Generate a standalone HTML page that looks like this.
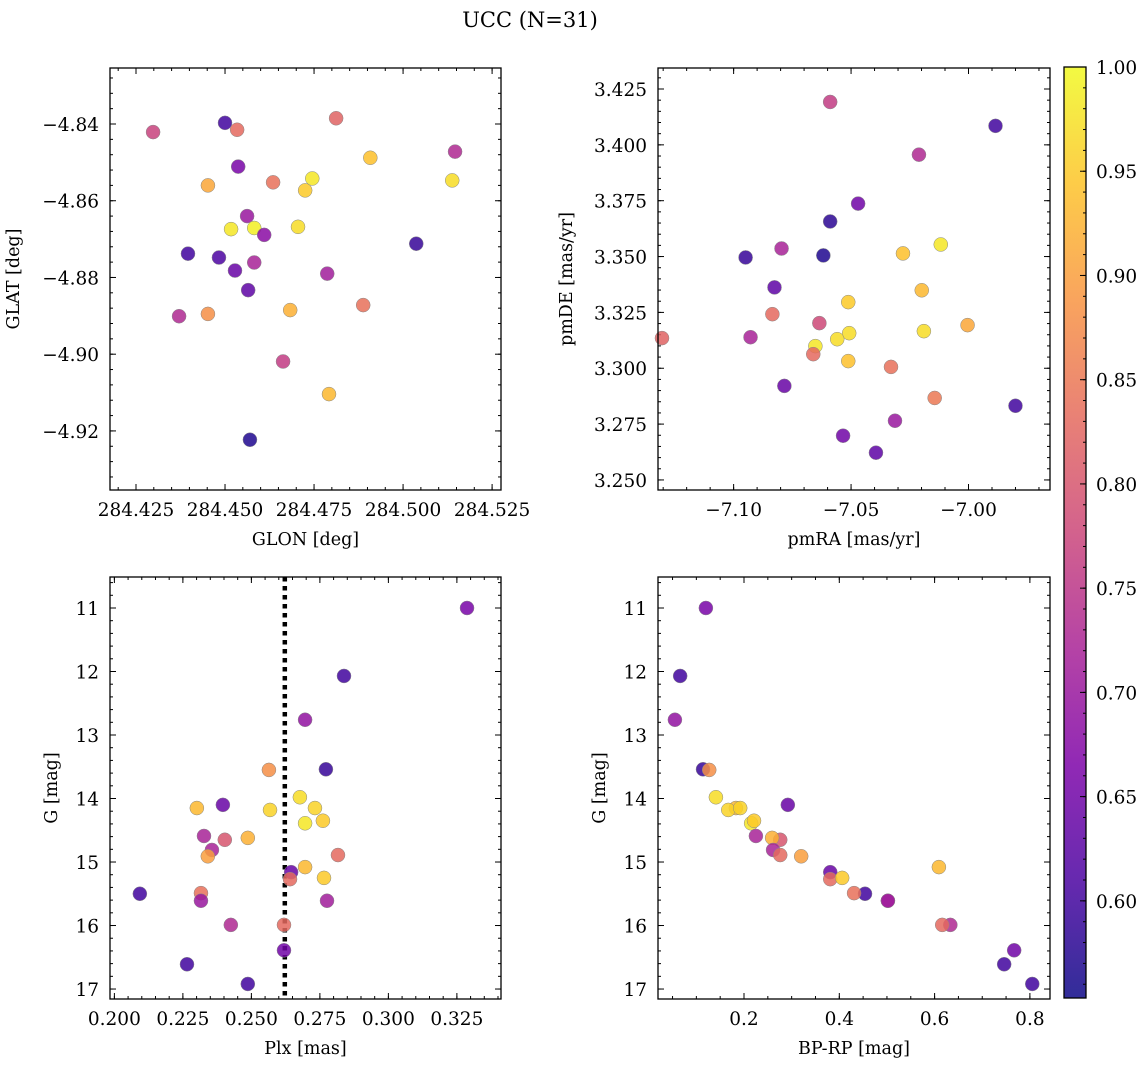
<!DOCTYPE html>
<html><head><meta charset="utf-8"><style>
body{margin:0;background:#fff;}
svg text{font-family:"DejaVu Serif","Liberation Serif",serif;fill:#000;}
</style></head><body>
<svg id="fig" width="1148" height="1067" xmlns="http://www.w3.org/2000/svg">
<defs><linearGradient id="plasma" x1="0" y1="1" x2="0" y2="0"></linearGradient></defs>
<text x="530" y="27" font-size="21" text-anchor="middle">UCC (N=31)</text>
</svg>
<script>
const glon=[284.4298,284.4500,284.4534,284.4537,284.4452,284.4635,284.4725,284.4745,284.4812,284.4908,284.5146,284.5138,284.4562,284.4517,284.4582,284.4705,284.4610,284.4396,284.4483,284.4528,284.4582,284.4565,284.4787,284.5037,284.4371,284.4452,284.4683,284.4888,284.4663,284.4792,284.4570];
const glat=[-4.8421,-4.8397,-4.8415,-4.8511,-4.8560,-4.8552,-4.8573,-4.8542,-4.8385,-4.8488,-4.8472,-4.8547,-4.8640,-4.8674,-4.8671,-4.8668,-4.8689,-4.8738,-4.8748,-4.8782,-4.8761,-4.8833,-4.8790,-4.8712,-4.8901,-4.8895,-4.8885,-4.8872,-4.9019,-4.9104,-4.9223];
const probA=[0.77,0.60,0.83,0.66,0.91,0.84,0.95,0.98,0.82,0.94,0.73,0.97,0.70,0.98,0.99,0.97,0.68,0.60,0.61,0.64,0.72,0.63,0.71,0.59,0.73,0.88,0.92,0.84,0.76,0.93,0.57];
const pmra=[-7.0589,-6.9885,-7.0211,-7.0470,-7.0589,-7.0118,-7.0796,-7.0949,-7.0618,-7.0279,-7.0826,-7.0199,-7.0835,-7.0512,-7.0635,-7.0508,-7.0190,-7.0004,-7.1305,-7.0928,-7.0559,-7.0652,-7.0661,-7.0512,-7.0330,-7.0784,-7.0144,-6.9800,-7.0313,-7.0534,-7.0394];
const pmde=[3.4192,3.4085,3.3956,3.3737,3.3657,3.3554,3.3536,3.3496,3.3505,3.3514,3.3362,3.3349,3.3242,3.3296,3.3202,3.3157,3.3166,3.3193,3.3135,3.3139,3.3130,3.3099,3.3063,3.3032,3.3006,3.2921,3.2867,3.2832,3.2765,3.2698,3.2622];
const probB=[0.76,0.60,0.73,0.65,0.58,0.98,0.72,0.59,0.57,0.94,0.63,0.93,0.83,0.95,0.78,0.97,0.97,0.91,0.82,0.72,0.97,0.98,0.83,0.94,0.84,0.64,0.85,0.60,0.70,0.65,0.63];
const plx=[0.3287,0.2838,0.2696,0.2772,0.2564,0.2301,0.2396,0.2677,0.2568,0.2732,0.2696,0.2761,0.2327,0.2403,0.2487,0.2356,0.2341,0.2816,0.2696,0.2645,0.2641,0.2765,0.2093,0.2316,0.2316,0.2776,0.2425,0.2619,0.2619,0.2265,0.2487];
const gmag=[11.00,12.07,12.76,13.54,13.55,14.15,14.10,13.98,14.18,14.15,14.39,14.35,14.59,14.65,14.62,14.81,14.91,14.89,15.08,15.16,15.27,15.25,15.50,15.49,15.61,15.61,15.99,15.99,16.39,16.61,16.92];
const bprp=[0.120,0.066,0.055,0.114,0.127,0.183,0.292,0.141,0.167,0.192,0.215,0.221,0.225,0.276,0.259,0.261,0.320,0.276,0.609,0.381,0.381,0.406,0.454,0.431,0.502,0.502,0.633,0.616,0.767,0.746,0.805];
const probC=[0.66,0.60,0.69,0.59,0.88,0.93,0.64,0.97,0.96,0.96,0.98,0.95,0.72,0.80,0.92,0.72,0.90,0.83,0.93,0.64,0.83,0.95,0.60,0.84,0.70,0.71,0.73,0.83,0.65,0.60,0.60];
const plxMedian=0.2622;
const ticksA_x=[284.425,284.45,284.475,284.5,284.525];
const ticksA_y=[-4.84,-4.86,-4.88,-4.90,-4.92];
const ticksB_x=[-7.10,-7.05,-7.00];
const ticksB_y=[3.25,3.275,3.3,3.325,3.35,3.375,3.4,3.425];
const ticksC_x=[0.2,0.225,0.25,0.275,0.3,0.325];
const ticksG=[11,12,13,14,15,16,17];
const ticksD_x=[0.2,0.4,0.6,0.8];
const cbTicks=[0.60,0.65,0.70,0.75,0.80,0.85,0.90,0.95,1.00];
const vmin=0.5534,vmax=1.0;

const NS="http://www.w3.org/2000/svg";
const svg=document.getElementById('fig');
const FS=18.5;
const stops=[[0,13,8,135],[0.125,75,3,161],[0.25,125,3,168],[0.375,168,34,150],[0.5,203,70,121],[0.625,229,107,93],[0.75,248,148,65],[0.875,253,195,40],[1,240,249,33]];
function plasma(t){t=Math.max(0,Math.min(1,t));for(let i=1;i<stops.length;i++){if(t<=stops[i][0]){const a=stops[i-1],b=stops[i],f=(t-a[0])/(b[0]-a[0]);return `rgb(${Math.round(a[1]+f*(b[1]-a[1]))},${Math.round(a[2]+f*(b[2]-a[2]))},${Math.round(a[3]+f*(b[3]-a[3]))})`;}}}
function mk(tag,attrs,parent){const e=document.createElementNS(NS,tag);for(const k in attrs)e.setAttribute(k,attrs[k]);(parent||svg).appendChild(e);return e;}
function lin(d0,d1,r0,r1){return v=>r0+(v-d0)/(d1-d0)*(r1-r0);}
function fmt(v,d){const s=Math.abs(v).toFixed(d);return (v<0?'\u2212':'')+s;}

function axes(o){
  const g=mk('g',{});
  
  
  const X=lin(o.xd[0],o.xd[1],o.L,o.R), Y=lin(o.yd[0],o.yd[1],o.B,o.T);
  for(let v=Math.ceil(Math.min(...o.xd)/o.xmin-1e-6)*o.xmin;v<=Math.max(...o.xd)+1e-9;v+=o.xmin){const x=X(v);mk('line',{x1:x,x2:x,y1:o.B,y2:o.B-3,stroke:'#000','stroke-width':1},g);mk('line',{x1:x,x2:x,y1:o.T,y2:o.T+3,stroke:'#000','stroke-width':1},g);}
  for(let v=Math.ceil(Math.min(...o.yd)/o.ymin-1e-6)*o.ymin;v<=Math.max(...o.yd)+1e-9;v+=o.ymin){const y=Y(v);mk('line',{x1:o.L,x2:o.L+3,y1:y,y2:y,stroke:'#000','stroke-width':1},g);mk('line',{x1:o.R,x2:o.R-3,y1:y,y2:y,stroke:'#000','stroke-width':1},g);}
  o.xt.forEach(v=>{const x=X(v);mk('line',{x1:x,x2:x,y1:o.B,y2:o.B-6,stroke:'#000','stroke-width':1},g);mk('line',{x1:x,x2:x,y1:o.T,y2:o.T+6,stroke:'#000','stroke-width':1},g);
    const t=mk('text',{x:x,y:o.B+26,'font-size':FS,'text-anchor':'middle'},g);t.textContent=fmt(v,o.xdec);
    
    });
  o.yt.forEach(v=>{const y=Y(v);mk('line',{x1:o.L,x2:o.L+6,y1:y,y2:y,stroke:'#000','stroke-width':1},g);mk('line',{x1:o.R,x2:o.R-6,y1:y,y2:y,stroke:'#000','stroke-width':1},g);
    const t=mk('text',{x:o.L-11,y:y+7,'font-size':FS,'text-anchor':'end'},g);t.textContent=fmt(v,o.ydec);
    
    });
  const xl=mk('text',{x:(o.L+o.R)/2,y:o.B+55,'font-size':17.5,'text-anchor':'middle'},g);xl.textContent=o.xlab;
  
  
  const yx=o.L-o.ylabOff,yy=(o.T+o.B)/2;
  const yl=mk('text',{x:yx,y:yy,'font-size':17.5,'text-anchor':'middle',transform:`rotate(-90 ${yx} ${yy})`},g);yl.textContent=o.ylab;
  
  
  if(o.vline!==undefined){const x=X(o.vline);const l=mk('line',{x1:x,x2:x,y1:o.T,y2:o.B,stroke:'#000','stroke-width':4.5,'stroke-dasharray':'4.5 4.5'},g);
    
    }
  o.xs.forEach((xv,i)=>{const c=mk('circle',{cx:X(xv),cy:Y(o.ys[i]),r:7,fill:plasma((o.cs[i]-vmin)/(vmax-vmin)),'fill-opacity':0.85,stroke:'#888','stroke-width':0.5},g);
    
    });
  mk('rect',{x:o.L,y:o.T,width:o.R-o.L,height:o.B-o.T,fill:'none',stroke:'#000','stroke-width':1.3},g);
}
axes({name:'glon-glat-panel',L:110,R:501,T:68,B:490,xd:[284.4177,284.5275],yd:[-4.9354,-4.8254],xt:ticksA_x,yt:ticksA_y,xmin:0.005,ymin:0.004,xdec:3,ydec:2,xlab:'GLON [deg]',ylab:'GLAT [deg]',ylabOff:91,xs:glon,ys:glat,cs:probA});
axes({name:'pm-panel',L:658,R:1050,T:68,B:490,xd:[-7.1322,-6.9653],yd:[3.2455,3.4344],xt:ticksB_x,yt:ticksB_y,xmin:0.01,ymin:0.005,xdec:2,ydec:3,xlab:'pmRA [mas/yr]',ylab:'pmDE [mas/yr]',ylabOff:86,xs:pmra,ys:pmde,cs:probB});
axes({name:'plx-g-panel',L:110,R:501,T:577,B:999,xd:[0.1984,0.3411],yd:[17.157,10.512],xt:ticksC_x,yt:ticksG,xmin:0.005,ymin:0.2,xdec:3,ydec:0,xlab:'Plx [mas]',ylab:'G [mag]',ylabOff:53,xs:plx,ys:gmag,cs:probC,vline:plxMedian});
axes({name:'cmd-panel',L:658,R:1050,T:577,B:999,xd:[0.0195,0.8422],yd:[17.157,10.512],xt:ticksD_x,yt:ticksG,xmin:0.05,ymin:0.2,xdec:1,ydec:0,xlab:'BP-RP [mag]',ylab:'G [mag]',ylabOff:53,xs:bprp,ys:gmag,cs:probC});
const grad=document.getElementById('plasma');
stops.forEach(s=>mk('stop',{offset:s[0],'stop-color':`rgb(${s[1]},${s[2]},${s[3]})`,'stop-opacity':0.85},grad));
const cb=mk('g',{});


const CT=67,CB=998,CL=1064,CR=1086;
const CY=lin(vmin,vmax,CB,CT);
mk('rect',{x:CL,y:CT,width:CR-CL,height:CB-CT,fill:'url(#plasma)'},cb);
for(let v=0.56;v<=1.0001;v+=0.01){const y=CY(v);mk('line',{x1:CR,x2:CR-3,y1:y,y2:y,stroke:'#000','stroke-width':1},cb);}
cbTicks.forEach(v=>{const y=CY(v);mk('line',{x1:CR,x2:CR-6,y1:y,y2:y,stroke:'#000','stroke-width':1},cb);
  const t=mk('text',{x:CR+10,y:y+7,'font-size':FS},cb);t.textContent=v.toFixed(2);
  
  });
mk('rect',{x:CL,y:CT,width:CR-CL,height:CB-CT,fill:'none',stroke:'#000','stroke-width':1.3},cb);
</script>
</body></html>
